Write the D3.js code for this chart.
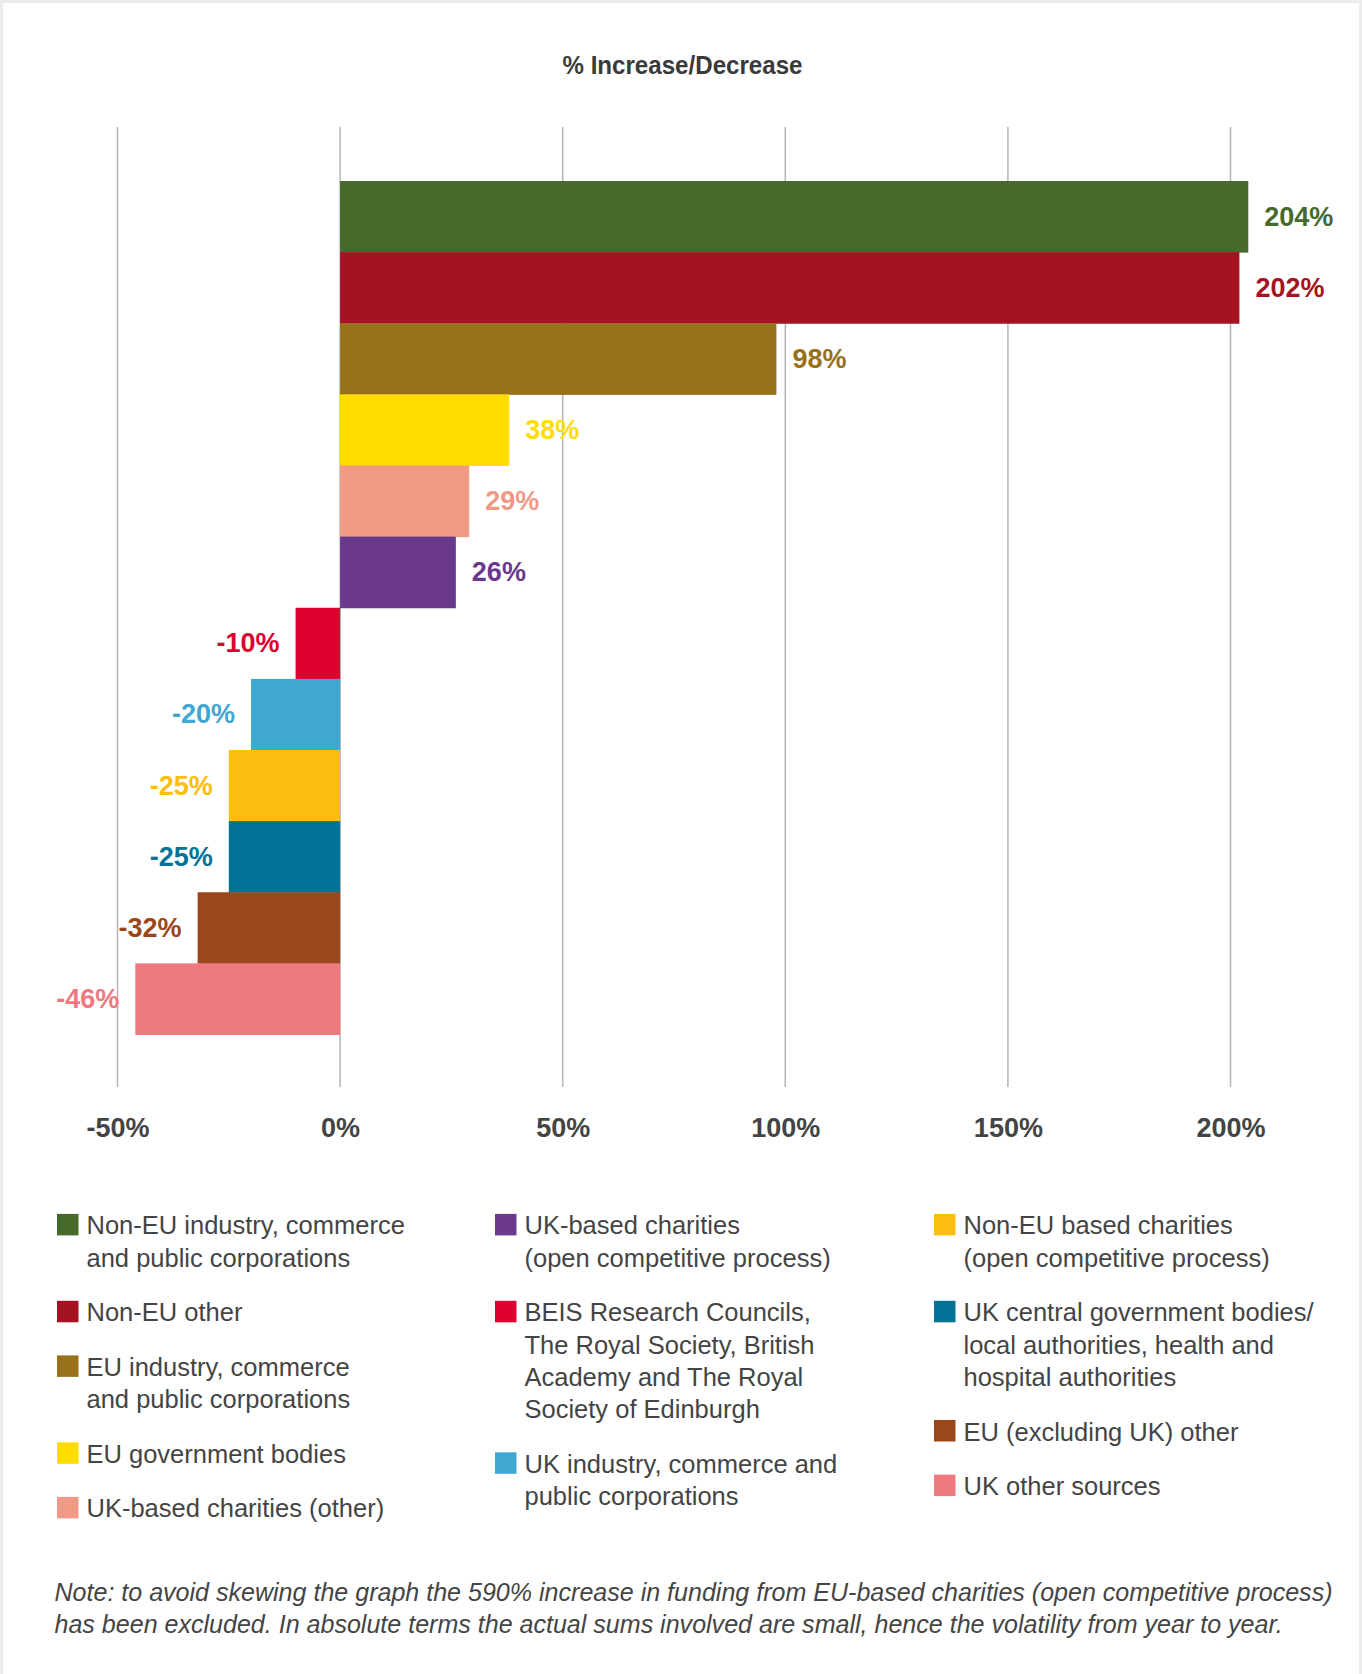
<!DOCTYPE html>
<html>
<head>
<meta charset="utf-8">
<script src="https://cdn.jsdelivr.net/npm/d3@7"></script>
<style>
  html, body { margin: 0; padding: 0; background: #fff; }
  svg { display: block; }
</style>
</head>
<body>
<div id="chart"></div>
<script>
// Funding sources, ordered top to bottom as drawn
const categories = [
  "Non-EU industry, commerce and public corporations",
  "Non-EU other",
  "EU industry, commerce and public corporations",
  "EU government bodies",
  "UK-based charities (other)",
  "UK-based charities (open competitive process)",
  "BEIS Research Councils, The Royal Society, British Academy and The Royal Society of Edinburgh",
  "UK industry, commerce and public corporations",
  "Non-EU based charities (open competitive process)",
  "UK central government bodies/ local authorities, health and hospital authorities",
  "EU (excluding UK) other",
  "UK other sources"
];

// Percentage change per source
const values = [204, 202, 98, 38, 29, 26, -10, -20, -25, -25, -32, -46];

const colors = [
  "#466a2b", "#a51323", "#98721b", "#ffdd00", "#ee9a85", "#6a398e",
  "#de002e", "#3fa7d2", "#fbbd0e", "#007396", "#9b461b", "#ee7a80"
];

// Legend text, wrapped as printed
const legendLines = [
  ["Non-EU industry, commerce", "and public corporations"],
  ["Non-EU other"],
  ["EU industry, commerce", "and public corporations"],
  ["EU government bodies"],
  ["UK-based charities (other)"],
  ["UK-based charities", "(open competitive process)"],
  ["BEIS Research Councils,", "The Royal Society, British", "Academy and The Royal", "Society of Edinburgh"],
  ["UK industry, commerce and", "public corporations"],
  ["Non-EU based charities", "(open competitive process)"],
  ["UK central government bodies/", "local authorities, health and", "hospital authorities"],
  ["EU (excluding UK) other"],
  ["UK other sources"]
];

// Which sources go in each legend column
const legendColumns = [[0, 1, 2, 3, 4], [5, 6, 7], [8, 9, 10, 11]];

const tickValues = [-50, 0, 50, 100, 150, 200];

const title = "% Increase/Decrease";
const noteLines = [
  "Note: to avoid skewing the graph the 590% increase in funding from EU-based charities (open competitive process)",
  "has been excluded. In absolute terms the actual sums involved are small, hence the volatility from year to year."
];

const W = 1362, H = 1674;
const font = "'Liberation Sans', Arial, Helvetica, sans-serif";

// squeeze a text horizontally to a share of its natural width
function condense(sel, sx) {
  sel.each(function () {
    const w = this.getComputedTextLength();
    d3.select(this).attr("textLength", w * sx).attr("lengthAdjust", "spacingAndGlyphs");
  });
}

const svg = d3.select("#chart").append("svg")
  .attr("width", W).attr("height", H);

// light frame round the figure
svg.append("rect")
  .attr("x", 1.5).attr("y", 1.5)
  .attr("width", W - 3).attr("height", H + 20)
  .attr("fill", "none").attr("stroke", "#ececec").attr("stroke-width", 3);

const x = d3.scaleLinear().domain([-50, 200]).range([117.5, 1230.5]);
const y = d3.scaleBand().domain(d3.range(categories.length)).range([181, 1034.5]).paddingInner(0).paddingOuter(0);

// title
svg.append("text")
  .attr("x", 682.5).attr("y", 64.5)
  .attr("text-anchor", "middle").attr("dominant-baseline", "central")
  .attr("font-family", font).attr("font-weight", "bold")
  .attr("font-size", 26.5).attr("fill", "#3a3a3a")
  .text(title)
  .call(condense, 0.91);

// vertical gridlines
svg.append("g").selectAll("line").data(tickValues).join("line")
  .attr("x1", d => x(d)).attr("x2", d => x(d))
  .attr("y1", 127).attr("y2", 1087)
  .attr("stroke", "#b5b5b5").attr("stroke-width", 1.5);

// axis labels
const axis = d3.axisBottom(x).tickValues(tickValues).tickSize(0).tickPadding(0)
  .tickFormat(d => d + "%");
const axisG = svg.append("g").attr("transform", "translate(0,1128)").call(axis);
axisG.select(".domain").remove();
axisG.selectAll("text")
  .attr("dy", null).attr("y", 0)
  .attr("dominant-baseline", "central")
  .attr("font-family", font).attr("font-weight", "bold")
  .attr("font-size", 27).attr("fill", "#444");

// bars
svg.append("g").selectAll("rect").data(values).join("rect")
  .attr("x", d => x(Math.min(0, d)))
  .attr("width", d => Math.abs(x(d) - x(0)))
  .attr("y", (d, i) => y(i))
  .attr("height", y.bandwidth() + 0.5)
  .attr("fill", (d, i) => colors[i]);

// value labels
svg.append("g").selectAll("text").data(values).join("text")
  .attr("x", d => d >= 0 ? x(d) + 16 : x(d) - 16)
  .attr("y", (d, i) => y(i) + y.bandwidth() / 2)
  .attr("text-anchor", d => d >= 0 ? "start" : "end")
  .attr("dominant-baseline", "central")
  .attr("font-family", font).attr("font-weight", "bold")
  .attr("font-size", 27).attr("fill", (d, i) => colors[i])
  .text(d => d + "%");

// legend
const colX = [57, 495, 934];
const lineH = 32.3, itemGap = 22.3, firstLine = 1225.4, sq = 21.5;
const legend = svg.append("g");
legendColumns.forEach((col, ci) => {
  let cy = firstLine;
  col.forEach(idx => {
    const g = legend.append("g");
    g.append("rect")
      .attr("x", colX[ci]).attr("y", cy - 11.5)
      .attr("width", sq).attr("height", sq)
      .attr("fill", colors[idx]);
    legendLines[idx].forEach((ln, li) => {
      g.append("text")
        .attr("x", colX[ci] + 29.5).attr("y", cy + li * lineH)
        .attr("dominant-baseline", "central")
        .attr("font-family", font).attr("font-size", 25.5)
        .attr("fill", "#444")
        .text(ln);
    });
    cy += legendLines[idx].length * lineH + itemGap;
  });
});

// note, set to the width of the chart block
const note = svg.append("g").selectAll("text").data(noteLines).join("text")
  .attr("x", 54.5).attr("y", (d, i) => 1591.5 + i * 32)
  .attr("dominant-baseline", "central")
  .attr("font-family", font).attr("font-style", "italic")
  .attr("font-size", 25).attr("fill", "#444")
  .text(d => d);
const noteW = note.nodes()[0].getComputedTextLength();
note.call(condense, 1278 / noteW);
</script>
</body>
</html>
